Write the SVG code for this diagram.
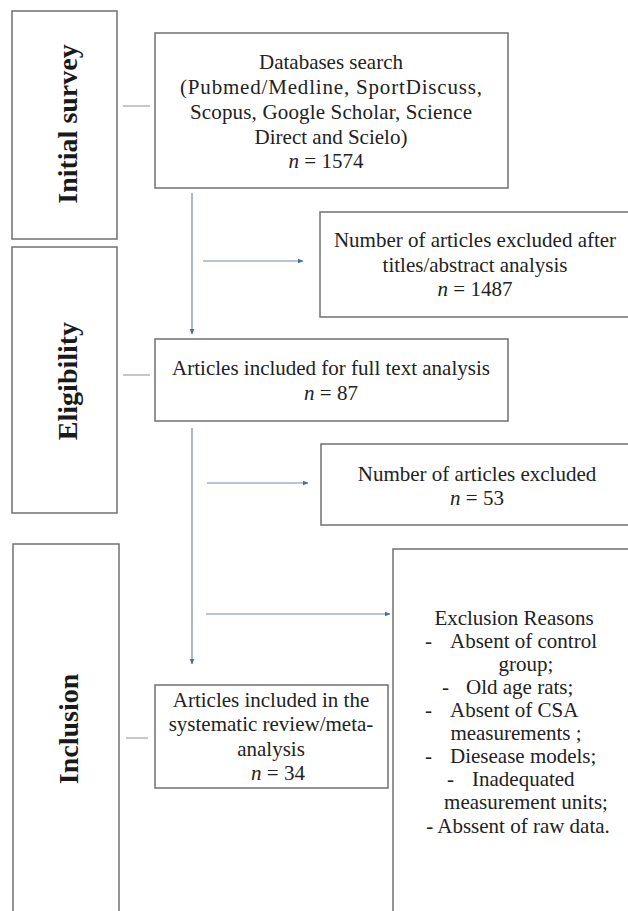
<svg xmlns="http://www.w3.org/2000/svg" width="628" height="911" viewBox="0 0 628 911">
  <defs>
    <marker id="ah" viewBox="0 0 10 10" refX="9" refY="5" markerWidth="6" markerHeight="6" orient="auto" markerUnits="userSpaceOnUse">
      <path d="M0,1 L10,5 L0,9 Z" fill="#4f6a9c"/>
    </marker>
    <style>
      .box { fill: #ffffff; stroke: #707070; stroke-width: 1.5; }
      .stage { font-family: "Liberation Serif", "Times New Roman", serif; font-weight: bold; font-size: 28px; fill: #1a1a1a; text-anchor: middle; }
      .t { font-family: "Liberation Serif", "Times New Roman", serif; font-size: 21px; fill: #222; text-anchor: middle; }
      .tl { font-family: "Liberation Serif", "Times New Roman", serif; font-size: 21px; fill: #222; }
      .flow { stroke: #7387b3; stroke-width: 1.2; fill: none; }
      .tick { stroke: #a9a9a9; stroke-width: 1.3; fill: none; }
    </style>
  </defs>
  <rect x="0" y="0" width="628" height="911" fill="#ffffff"/>

  <g id="stage-initial">
    <rect class="box" x="12" y="11" width="105" height="228"/>
    <text class="stage" transform="translate(77,124) rotate(-90)">Initial survey</text>
  </g>
  <g id="stage-eligibility">
    <rect class="box" x="12" y="247" width="105" height="266"/>
    <text class="stage" transform="translate(77,381) rotate(-90)">Eligibility</text>
  </g>
  <g id="stage-inclusion">
    <rect class="box" x="13" y="544" width="106" height="380"/>
    <text class="stage" transform="translate(78,729) rotate(-90)">Inclusion</text>
  </g>

  <g id="databases">
    <rect class="box" x="155" y="33" width="353" height="155"/>
    <text class="t" x="331" y="69">Databases search</text>
    <text class="t" x="331" y="94" textLength="302" lengthAdjust="spacing">(Pubmed/Medline, SportDiscuss,</text>
    <text class="t" x="331" y="119" textLength="282" lengthAdjust="spacing">Scopus, Google Scholar, Science</text>
    <text class="t" x="331" y="144">Direct and Scielo)</text>
    <text class="t" x="326" y="168"><tspan font-style="italic">n</tspan> = 1574</text>
  </g>

  <g id="excluded-titles">
    <rect class="box" x="320" y="212" width="320" height="105"/>
    <text class="t" x="475" y="247">Number of articles excluded after</text>
    <text class="t" x="475" y="272">titles/abstract analysis</text>
    <text class="t" x="475" y="296"><tspan font-style="italic">n</tspan> = 1487</text>
  </g>

  <g id="fulltext">
    <rect class="box" x="155" y="339" width="353" height="82"/>
    <text class="t" x="331" y="375">Articles included for full text analysis</text>
    <text class="t" x="331" y="400"><tspan font-style="italic">n</tspan> = 87</text>
  </g>

  <g id="excluded-fulltext">
    <rect class="box" x="321" y="444" width="320" height="81"/>
    <text class="t" x="477" y="481">Number of articles excluded</text>
    <text class="t" x="477" y="505"><tspan font-style="italic">n</tspan> = 53</text>
  </g>

  <g id="exclusion-reasons">
    <rect class="box" x="393" y="549" width="250" height="380"/>
    <text class="t" x="514" y="625">Exclusion Reasons</text>
    <text class="tl" y="648"><tspan x="425">-</tspan><tspan x="450">Absent of control</tspan></text>
    <text class="t" x="526" y="671">group;</text>
    <text class="tl" y="694"><tspan x="442">-</tspan><tspan x="466">Old age rats;</tspan></text>
    <text class="tl" y="717"><tspan x="425">-</tspan><tspan x="450">Absent of CSA</tspan></text>
    <text class="t" x="516" y="740">measurements ;</text>
    <text class="tl" y="763"><tspan x="425">-</tspan><tspan x="450">Diesease models;</tspan></text>
    <text class="tl" y="786"><tspan x="447">-</tspan><tspan x="472">Inadequated</tspan></text>
    <text class="t" x="526" y="809">measurement units;</text>
    <text class="t" x="518" y="833">- Abssent of raw data.</text>
  </g>

  <g id="included">
    <rect class="box" x="155" y="685" width="233" height="103"/>
    <text class="t" x="271" y="707">Articles included in the</text>
    <text class="t" x="271" y="731">systematic review/meta-</text>
    <text class="t" x="271" y="756">analysis</text>
    <text class="t" x="278" y="780"><tspan font-style="italic">n</tspan> = 34</text>
  </g>

  <g id="connectors">
    <line class="tick" x1="123" y1="106" x2="150" y2="106"/>
    <line class="tick" x1="123" y1="375" x2="150" y2="375"/>
    <line class="tick" x1="126" y1="738" x2="148" y2="738"/>
    <line class="flow" x1="192" y1="193" x2="192" y2="334" marker-end="url(#ah)"/>
    <line class="flow" x1="203" y1="261" x2="303" y2="261" marker-end="url(#ah)"/>
    <line class="flow" x1="192" y1="428" x2="192" y2="664" marker-end="url(#ah)"/>
    <line class="flow" x1="207" y1="483" x2="308" y2="483" marker-end="url(#ah)"/>
    <line class="flow" x1="206" y1="614" x2="390" y2="614" marker-end="url(#ah)"/>
  </g>
</svg>
